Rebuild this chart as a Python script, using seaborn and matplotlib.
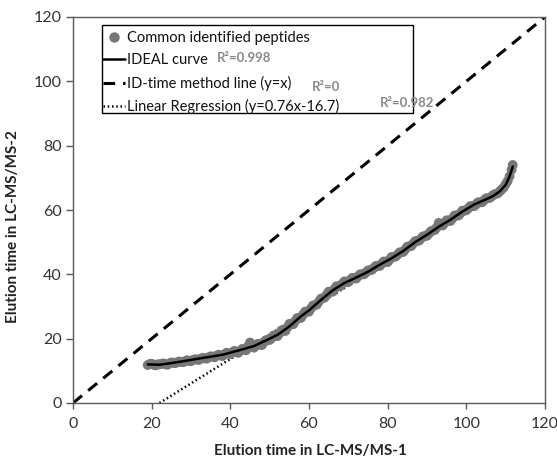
import numpy as np
import pandas as pd
import matplotlib
matplotlib.use("Agg")
import matplotlib.pyplot as plt
from matplotlib.lines import Line2D
from matplotlib.patches import Rectangle
import seaborn as sns

# ---------------- data ----------------
pep_x = [19, 20, 21, 22, 23, 24, 25, 26, 27, 28, 29, 30, 31, 32, 33, 34, 35, 36, 37, 38,
         39, 40, 41, 42, 43, 44, 45, 46, 47, 48, 49, 50, 51, 52, 53, 54, 55, 56, 57, 58,
         59, 60, 61, 62, 63, 64, 65, 66, 67, 68, 69, 70, 71, 72, 73, 74, 75, 76, 77, 78,
         79, 80, 81, 82, 83, 84, 85, 86, 87, 88, 89, 90, 91, 92, 93, 94, 95, 96, 97, 98,
         99, 100, 101, 102, 103, 104, 105, 106, 107, 108, 109, 110, 111, 111.5, 111.8]
pep_y = [11.8, 12.2, 11.7, 12.0, 12.3, 11.9, 12.6, 12.4, 12.9, 12.7, 13.3, 13.0, 13.6, 13.4,
         14.0, 13.8, 14.5, 14.2, 15.0, 14.6, 15.6, 15.2, 16.2, 15.6, 16.8, 16.4, 18.8, 17.2,
         18.4, 18.0, 19.5, 19.6, 21.0, 20.8, 22.6, 22.4, 24.6, 24.5, 26.4, 26.5, 28.4, 28.4,
         30.3, 30.6, 32.4, 32.8, 34.6, 34.6, 36.3, 36.4, 37.8, 37.6, 38.9, 38.7, 40.0, 40.0,
         41.2, 41.4, 42.6, 42.6, 44.0, 43.8, 45.4, 45.5, 46.8, 47.0, 48.6, 48.8, 50.3, 50.5,
         51.8, 52.0, 53.4, 53.8, 56.0, 55.2, 56.8, 56.6, 58.3, 58.3, 59.8, 59.9, 61.2, 61.2,
         62.4, 62.4, 63.6, 63.8, 64.8, 65.2, 66.4, 68.0, 70.5, 72.5, 74.0]

pep_x_b = [19.5, 20.5, 21.5, 22.5, 23.5, 24.5, 25.5, 26.5, 27.5, 28.5, 29.5, 30.5, 31.5,
           32.5, 33.5, 34.5, 35.5, 36.5, 37.5, 38.5, 39.5, 40.5, 41.5, 42.5, 43.5, 44.5,
           45.5, 46.5, 47.5, 48.5, 49.5, 50.5, 51.5, 52.5, 53.5, 54.5, 55.5, 56.5, 57.5,
           58.5, 59.5, 60.5, 61.5, 62.5, 63.5, 64.5, 65.5, 66.5, 67.5, 68.5, 69.5, 70.5,
           71.5, 72.5, 73.5, 74.5, 75.5, 76.5, 77.5, 78.5, 79.5, 80.5, 81.5, 82.5, 83.5,
           84.5, 85.5, 86.5, 87.5, 88.5, 89.5, 90.5, 91.5, 92.5, 93.5, 94.5, 95.5, 96.5,
           97.5, 98.5, 99.5, 100.5, 101.5, 102.5, 103.5, 104.5, 105.5, 106.5, 107.5, 108.5,
           109.5, 110.5]
pep_y_b = [12.1, 11.9, 12.0, 12.2, 12.0, 12.3, 12.5, 12.7, 12.8, 13.0, 13.1, 13.4, 13.5,
           13.8, 13.9, 14.2, 14.4, 14.7, 14.8, 15.1, 15.4, 15.7, 15.9, 16.2, 16.6, 17.6,
           18.0, 17.8, 18.2, 18.8, 19.6, 20.2, 20.9, 21.7, 22.5, 23.5, 24.5, 25.5, 26.4,
           27.5, 28.4, 29.4, 30.4, 31.5, 32.6, 33.7, 34.6, 35.5, 36.3, 37.1, 37.7, 38.3,
           38.8, 39.4, 40.0, 40.6, 41.3, 42.0, 42.6, 43.3, 43.9, 44.6, 45.4, 46.1, 46.9,
           47.8, 48.7, 49.6, 50.4, 51.2, 51.9, 52.7, 53.6, 54.6, 55.4, 56.0, 56.7, 57.4,
           58.3, 59.0, 59.8, 60.5, 61.2, 61.8, 62.4, 63.0, 63.7, 64.3, 65.0, 65.8, 67.0,
           69.0]

ideal_x = [19, 22, 25, 30, 34, 38, 42, 46, 50, 52, 55, 58, 60, 63, 66, 69, 72, 75, 78, 81,
           84, 87, 90, 93, 96, 99, 102, 105, 107, 108.5, 110, 111, 111.8]
ideal_y = [12.0, 11.9, 12.4, 13.4, 14.2, 15.0, 16.3, 17.7, 20.0, 21.2, 23.8, 27.0, 28.8,
           32.0, 35.0, 37.3, 39.0, 40.8, 43.0, 45.0, 47.3, 50.0, 52.3, 54.8, 57.0, 59.5,
           61.7, 63.3, 64.5, 65.8, 67.8, 70.5, 73.5]

idtime_x = [0, 120]
idtime_y = [0, 120]

linreg_x = [22, 111]
linreg_y = [0.0, 67.7]

ticks = [0, 20, 40, 60, 80, 100, 120]
legend_labels = ["Common identified peptides", "IDEAL curve",
                 "ID-time method line (y=x)", "Linear Regression (y=0.76x-16.7)"]
r2_labels = ["R\u00b2=0.998", "R\u00b2=0", "R\u00b2=0.982"]

# ---------------- style ----------------
sns.set_theme(style="white")
plt.rcParams['font.family'] = ['Lato', 'DejaVu Sans']

fig = plt.figure(figsize=(5.57, 4.62), dpi=100)
ax = fig.add_axes([73 / 557, 1 - 403 / 462, 472 / 557, 386 / 462])

pep = pd.DataFrame({"x": pep_x + pep_x_b, "y": pep_y + pep_y_b})
ideal = pd.DataFrame({"x": ideal_x, "y": ideal_y})
idt = pd.DataFrame({"x": idtime_x, "y": idtime_y})
lr = pd.DataFrame({"x": linreg_x, "y": linreg_y})

sns.scatterplot(data=pep, x="x", y="y", ax=ax, s=50, color="#777777",
                edgecolor="none", zorder=3, legend=False)
sns.lineplot(data=ideal, x="x", y="y", ax=ax, color="black", lw=1.8,
             sort=False, estimator=None, zorder=4, legend=False)
sns.lineplot(data=idt, x="x", y="y", ax=ax, color="black", lw=2.2,
             sort=False, estimator=None, zorder=2, legend=False)
ax.lines[-1].set_dashes([3.8, 2.6])
sns.lineplot(data=lr, x="x", y="y", ax=ax, color="black", lw=1.8,
             sort=False, estimator=None, zorder=2, legend=False)
ax.lines[-1].set_dashes([0.6, 1.1])

ax.set_xlim(0, 120)
ax.set_ylim(0, 120)
ax.set_xticks(ticks)
ax.set_yticks(ticks)
ax.set_xticklabels([str(t) for t in ticks])
ax.set_yticklabels([str(t) for t in ticks])

for s in ax.spines.values():
    s.set_visible(True)
    s.set_color("#5a5a5a")
    s.set_linewidth(1.0)

ax.tick_params(axis="x", direction="out", length=4, width=1, color="#5a5a5a",
               labelsize=11.5, labelcolor="#333333", pad=6, bottom=True)
ax.tick_params(axis="y", direction="out", length=5, width=1, color="#5a5a5a",
               labelsize=11.5, labelcolor="#333333", pad=3, left=True)

ax.set_xlabel("Elution time in LC-MS/MS-1", fontsize=11, fontweight="bold", color="#222222")
ax.set_ylabel("Elution time in LC-MS/MS-2", fontsize=11, fontweight="bold", color="#222222")
ax.xaxis.set_label_coords(0.502, -0.105)
ax.yaxis.set_label_coords(-0.112, 0.456)

# legend
handles = [
    Line2D([], [], marker="o", ls="none", color="#777777", markersize=6.5),
    Line2D([], [], color="black", lw=1.8),
    Line2D([], [], color="black", lw=2.2, dashes=[3.8, 2.6]),
    Line2D([], [], color="black", lw=1.8, dashes=[0.6, 1.1]),
]
leg = ax.legend(handles, legend_labels, loc="upper left",
                bbox_to_anchor=((103 - 73) / 472, (403 - 31) / 386),
                frameon=False, fontsize=10.5, handlelength=1.5, handletextpad=0.15,
                labelspacing=0.57, borderpad=0, borderaxespad=0)
for t in leg.get_texts():
    t.set_color("#111111")

# legend frame
x0 = (102 - 73) / 3.917
x1 = (412 - 73) / 3.917
y0 = (403 - 113) / 3.217
y1 = (403 - 25) / 3.217
ax.add_patch(Rectangle((x0, y0), x1 - x0, y1 - y0, fill=False, ec="black",
                       lw=1.0, zorder=5, clip_on=False))

r2_pos = [(36.5, 107.2), (60.8, 98.2), (78.1, 93.3)]
for lab, (px, py) in zip(r2_labels, r2_pos):
    ax.text(px, py, lab, fontsize=9.5, fontweight="bold", color="#8a8a8a",
            ha="left", va="center", zorder=6)

fig.savefig("out.png", dpi=100)
